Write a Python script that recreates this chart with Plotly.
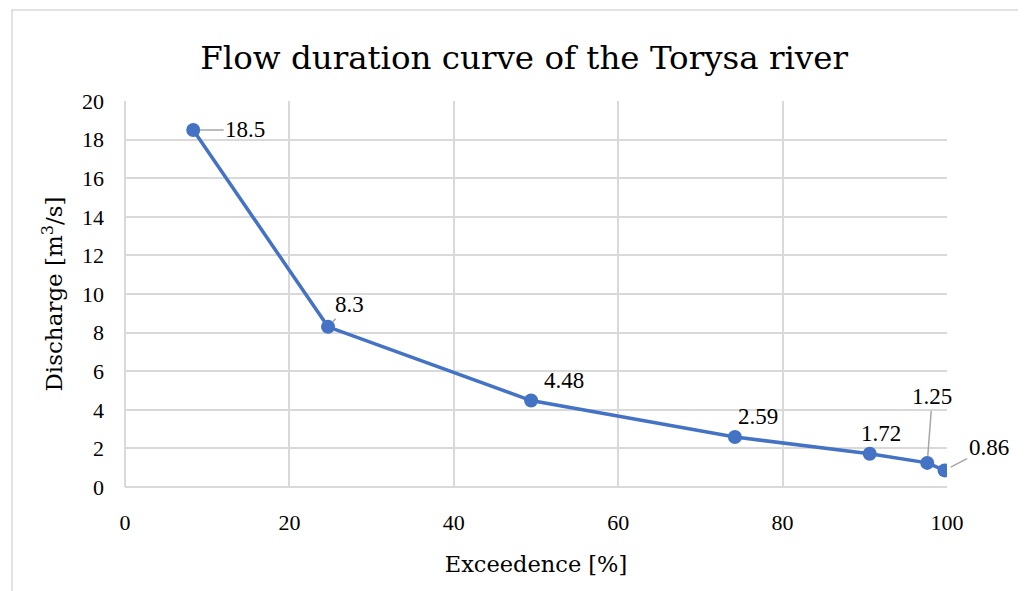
import plotly.graph_objects as go

exceedence = [8.3, 24.7, 49.4, 74.2, 90.6, 97.6, 99.7]
discharge = [18.5, 8.3, 4.48, 2.59, 1.72, 1.25, 0.86]
labels = ["18.5", "8.3", "4.48", "2.59", "1.72", "1.25", "0.86"]
# label offsets in pixels (dx, dy) and whether a leader line is drawn
label_offsets = [(52, 0), (21, -22), (33, -20), (23, -21), (11, -20), (5, -66), (44, -23)]
label_leader = [True, True, False, False, False, True, True]

NUM_FONT = "Liberation Serif, Times New Roman, serif"
TXT_FONT = "DejaVu Serif, serif"
BLUE = "#4472C4"
GRID = "#D9D9D9"

fig = go.Figure()
fig.add_trace(go.Scatter(
    x=exceedence, y=discharge, mode="lines+markers",
    line=dict(color=BLUE, width=3.5),
    marker=dict(color=BLUE, size=14),
    hoverinfo="x+y", showlegend=False,
))

annotations = []
for x, y, t, (dx, dy), lead in zip(exceedence, discharge, labels, label_offsets, label_leader):
    if lead:
        annotations.append(dict(
            x=x, y=y, xref="x", yref="y", text=t, showarrow=True,
            ax=dx, ay=dy, axref="pixel", ayref="pixel",
            arrowhead=0, arrowwidth=1.5, arrowcolor="#A6A6A6", standoff=7,
            font=dict(family=NUM_FONT, size=23, color="#000000"),
        ))
    else:
        annotations.append(dict(
            x=x, y=y, xref="x", yref="y", text=t, showarrow=False,
            xshift=dx, yshift=-dy,
            font=dict(family=NUM_FONT, size=23, color="#000000"),
        ))

fig.update_layout(
    width=1018, height=583,
    margin=dict(l=117, r=79, t=93, b=104),
    paper_bgcolor="white", plot_bgcolor="white",
    font=dict(family=NUM_FONT, size=22, color="#000000"),
    title=dict(text="Flow duration curve of the Torysa river",
               x=0.507, xanchor="center", y=0.915, yanchor="middle",
               font=dict(family=TXT_FONT, size=32.5, color="#000000")),
    annotations=annotations,
    shapes=[dict(type="rect", xref="paper", yref="paper",
                 x0=-0.1375, x1=1.3, y0=-0.4, y1=1.2358,
                 line=dict(color="#D9D9D9", width=1.5), layer="below")],
)
fig.update_xaxes(
    range=[0, 100], dtick=20, tick0=0,
    showgrid=True, gridcolor=GRID, gridwidth=1.5,
    showline=False, zeroline=True, zerolinecolor=GRID, zerolinewidth=1.5,
    ticks="", ticklabelstandoff=20,
    tickfont=dict(family=NUM_FONT, size=22, color="#000000"),
    title=dict(text="Exceedence [%]", standoff=22,
               font=dict(family=TXT_FONT, size=22.5, color="#000000")),
)
fig.update_yaxes(
    range=[0, 20], dtick=2, tick0=0,
    showgrid=True, gridcolor=GRID, gridwidth=1.5,
    showline=False, zeroline=True, zerolinecolor=GRID, zerolinewidth=1.5,
    ticks="", ticklabelstandoff=20,
    tickfont=dict(family=NUM_FONT, size=22, color="#000000"),
    title=dict(text="Discharge [m<sup>3</sup>/s]", standoff=12,
               font=dict(family=TXT_FONT, size=23, color="#000000")),
)

fig.write_html("out.html")
